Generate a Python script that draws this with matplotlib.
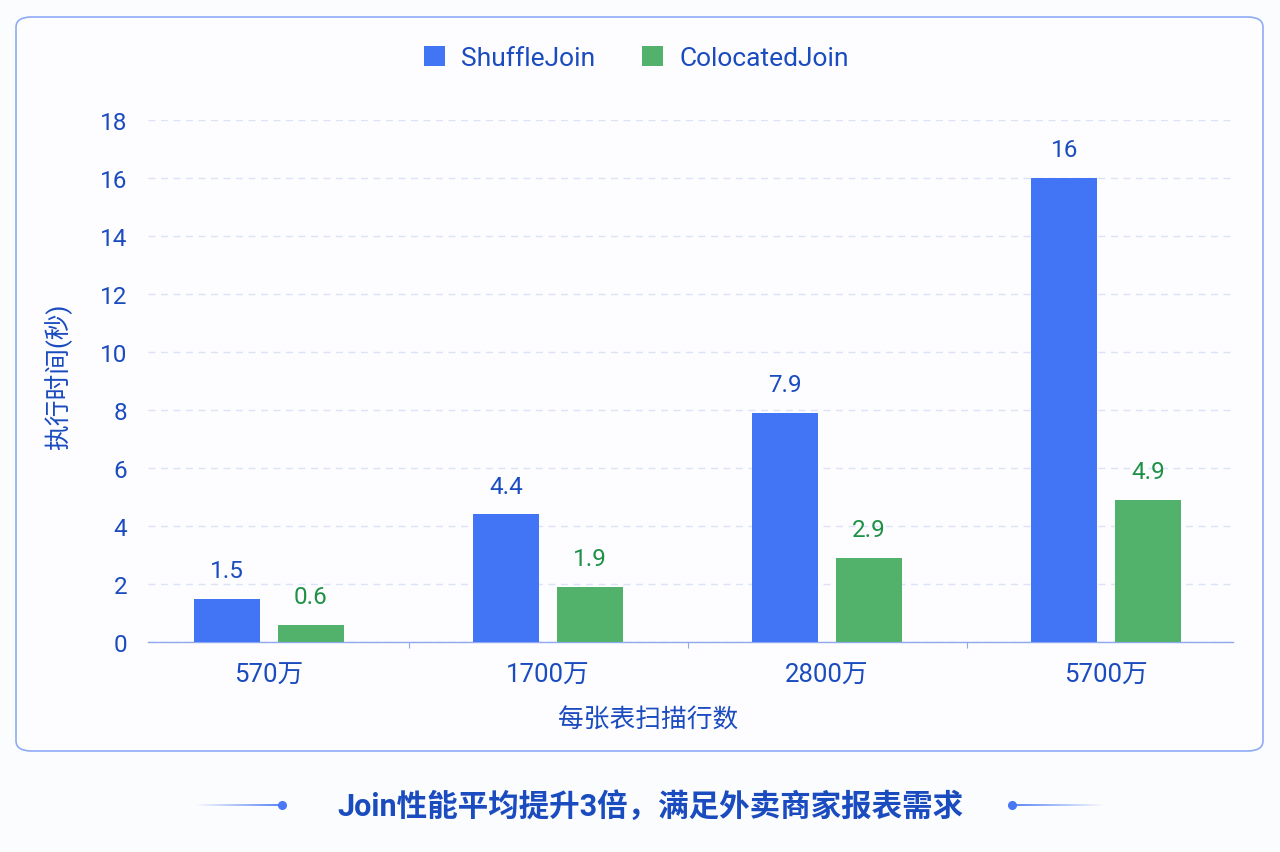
import matplotlib.pyplot as plt
import numpy as np
from matplotlib.patches import FancyBboxPatch
from matplotlib.collections import LineCollection

plt.rcParams['font.family'] = ['Roboto', 'Noto Sans CJK SC', 'DejaVu Sans']

categories = ['570万', '1700万', '2800万', '5700万']
shuffle_join = [1.5, 4.4, 7.9, 16]
colocated_join = [0.6, 1.9, 2.9, 4.9]
y_ticks = [0, 2, 4, 6, 8, 10, 12, 14, 16, 18]

blue = '#4175f5'
green = '#52b16a'
text_blue = '#1a4bbf'
text_green = '#1f9147'

fig = plt.figure(figsize=(12.8, 8.53), dpi=100)
fig.patch.set_facecolor('#fbfcfe')

# card behind the chart
card = FancyBboxPatch((16 / 1280, 1 - 752 / 853), 1247 / 1280, 734 / 853,
                      boxstyle='round,pad=0,rounding_size=0.012',
                      transform=fig.transFigure, facecolor='#fdfdff',
                      edgecolor='#8eabf6', linewidth=1.2, zorder=-1)
fig.patches.append(card)

ax = fig.add_axes([148 / 1280, 1 - 643 / 853, 1085 / 1280, 522 / 853])
ax.set_facecolor('none')

x = np.arange(len(categories))
w = 0.237
off = 0.15
b1 = ax.bar(x - off, shuffle_join, w, color=blue, label='ShuffleJoin', zorder=3)
b2 = ax.bar(x + off, colocated_join, w, color=green, label='ColocatedJoin', zorder=3)

for rect, v in zip(b1, shuffle_join):
    ax.annotate(f'{v:g}', (rect.get_x() + rect.get_width() / 2, v),
                xytext=(0, 12), textcoords='offset points', ha='center', va='bottom',
                fontsize=17.5, color=text_blue)
for rect, v in zip(b2, colocated_join):
    ax.annotate(f'{v:g}', (rect.get_x() + rect.get_width() / 2, v),
                xytext=(0, 12), textcoords='offset points', ha='center', va='bottom',
                fontsize=17.5, color=text_green)

ax.set_xlim(-0.434, 3.455)
ax.set_ylim(0, 18)
ax.set_yticks(y_ticks)
ax.set_xticks(x)
ax.set_xticklabels(categories)
ax.set_xticks([0.5, 1.5, 2.5], minor=True)
ax.tick_params(axis='x', which='major', length=0, pad=15, labelsize=18.5, labelcolor=text_blue)
ax.tick_params(axis='x', which='minor', length=4, color='#8fa8ee', width=0.8)
ax.tick_params(axis='y', length=0, pad=15, labelsize=17.5, labelcolor=text_blue)

ax.grid(axis='y', color='#dde3f6', linestyle=(0, (5, 4)), linewidth=1, zorder=0)
for s in ['top', 'right', 'left']:
    ax.spines[s].set_visible(False)
ax.spines['bottom'].set_color('#8fa8ee')
ax.spines['bottom'].set_linewidth(1)

ax.set_ylabel('执行时间(秒)', fontsize=18.5, color=text_blue, va='center')
ax.yaxis.set_label_coords(-0.083, 0.51)
ax.set_xlabel('每张表扫描行数', fontsize=18.5, color=text_blue, va='center')
ax.xaxis.set_label_coords(0.461, -0.1475)

fig.legend(handles=[b1, b2], loc='center', bbox_to_anchor=(0.497, 1 - 59 / 853),
           ncol=2, frameon=False, fontsize=19, labelcolor=text_blue,
           handlelength=0.8, handleheight=0.8, handletextpad=0.6, columnspacing=1.8)

# caption with decorative lines
cy = 1 - 806 / 853
fig.text(650 / 1280, cy, 'Join性能平均提升3倍，满足外卖商家报表需求',
         ha='center', va='center', fontsize=22, fontweight='bold', color=text_blue)

def fade_line(x0, x1, fade_left):
    xs = np.linspace(x0, x1, 60)
    segs = [[(xs[i] / 1280, cy), (xs[i + 1] / 1280, cy)] for i in range(len(xs) - 1)]
    a = np.linspace(0, 1, len(segs))
    if not fade_left:
        a = a[::-1]
    cols = [(0.29, 0.47, 0.96, ai) for ai in a]
    fig.add_artist(LineCollection(segs, colors=cols, linewidths=1.3, transform=fig.transFigure))

fade_line(195, 282, True)
fade_line(1012, 1105, False)
fig.add_artist(plt.Line2D([282 / 1280], [cy], marker='o', markersize=5.5,
                          color='#4a78f5', transform=fig.transFigure))
fig.add_artist(plt.Line2D([1012 / 1280], [cy], marker='o', markersize=5.5,
                          color='#4a78f5', transform=fig.transFigure))

fig.savefig('out.png', dpi=100, facecolor=fig.get_facecolor())
